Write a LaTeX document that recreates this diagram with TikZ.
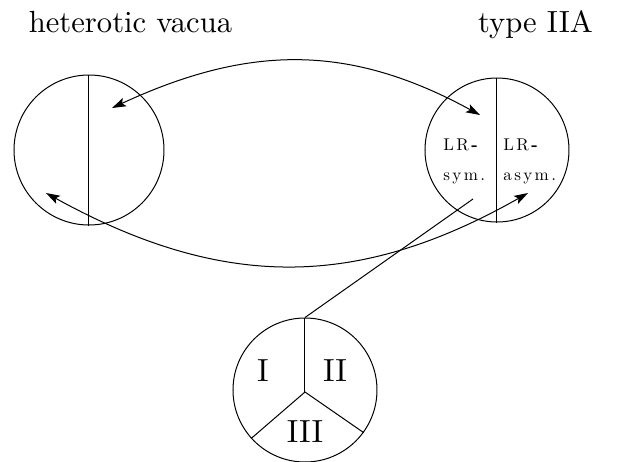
\documentclass[tikz,border=0pt]{standalone}
\usepackage{fontspec}
\setmainfont{Latin Modern Roman}
\usetikzlibrary{arrows.meta}
\begin{document}
\begin{tikzpicture}[x=0.5pt,y=-0.5pt,
  lw/.style={line width=0.5pt},
  ring/.style={circle,draw,lw,inner sep=0pt},
  ahead/.style={{Stealth[length=7pt,width=4.5pt,inset=1.5pt]}-{Stealth[length=7pt,width=4.5pt,inset=1.5pt]}},
  big/.style={anchor=base,inner sep=0pt},
  small/.style={anchor=base west,inner sep=0pt,font=\addfontfeature{LetterSpace=14}}]
\useasboundingbox (0,0) rectangle (618,462);
% titles
\node[big] (th) at (130.5,32) {\scalebox{1.53}{heterotic vacua}};
\node[big] (t2) at (535.5,32) {\scalebox{1.53}{type IIA}};
% circles
\node[ring,minimum size=75pt] (L) at (89,150) {};
\node[ring,minimum size=72pt] (R) at (497,150) {};
\node[ring,minimum size=72pt] (B) at (305,390) {};
\draw[lw] (L.north) -- (L.south);
\draw[lw] (R.north) -- (R.south);
% labels in right circle
\node[small] (l1) at (443,150.7) {\scalebox{0.85}{LR\textbf{-}}};
\node[small] (l2) at (443,180.7) {\scalebox{0.85}{sym.}};
\node[small] (r1) at (503,150.7) {\scalebox{0.85}{LR\textbf{-}}};
\node[small] (r2) at (503,180.7) {\scalebox{0.85}{asym.}};
% bottom circle
\coordinate (Bc) at (305,392);
\draw[lw] (Bc) -- (B.north);
\draw[lw] (Bc) -- (B.222);
\draw[lw] (Bc) -- (B.-36);
\node[anchor=center,inner sep=0pt] (n1) at (263,371) {\scalebox{1.6}{I}};
\node[anchor=center,inner sep=0pt] (n2) at (335,371) {\scalebox{1.6}{II}};
\node[anchor=center,inner sep=0pt] (n3) at (305,432) {\scalebox{1.6}{III}};
% connectors
\coordinate (a1) at (112,108);
\coordinate (a2) at (480,115);
\coordinate (b1) at (46,193);
\coordinate (b2) at (528,193);
\coordinate (rs) at (473,199);
\draw[lw] (B.north) -- (rs);
\draw[lw,ahead] (a1) .. controls (250,44) and (350,44) .. (a2);
\draw[lw,ahead] (b1) .. controls (222,290) and (357,290) .. (b2);
\end{tikzpicture}
\end{document}
